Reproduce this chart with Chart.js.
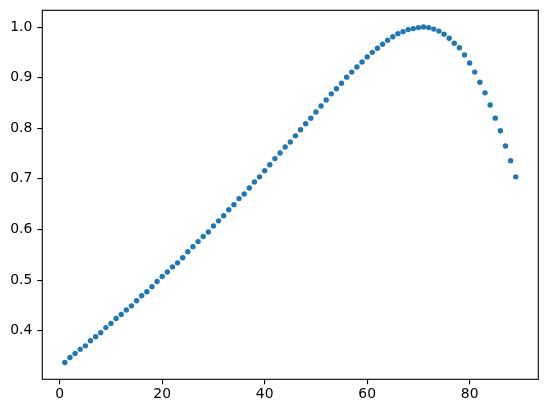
<!DOCTYPE html>
<html>
<head>
<meta charset="utf-8">
<script src="https://cdn.jsdelivr.net/npm/chart.js"></script>
<style>
  html, body { margin: 0; padding: 0; background: #ffffff; }
  #wrap { width: 547px; height: 413px; position: relative; }
</style>
</head>
<body>
<div id="wrap"><canvas id="scatterChart"></canvas></div>
<script>
// values
const xValues = [
   1,  2,  3,  4,  5,  6,  7,  8,  9, 10,
  11, 12, 13, 14, 15, 16, 17, 18, 19, 20,
  21, 22, 23, 24, 25, 26, 27, 28, 29, 30,
  31, 32, 33, 34, 35, 36, 37, 38, 39, 40,
  41, 42, 43, 44, 45, 46, 47, 48, 49, 50,
  51, 52, 53, 54, 55, 56, 57, 58, 59, 60,
  61, 62, 63, 64, 65, 66, 67, 68, 69, 70,
  71, 72, 73, 74, 75, 76, 77, 78, 79, 80,
  81, 82, 83, 84, 85, 86, 87, 88, 89
];
const yValues = [
  0.337, 0.347, 0.355, 0.363, 0.370, 0.380, 0.388, 0.396, 0.406, 0.414,
  0.424, 0.432, 0.441, 0.449, 0.459, 0.469, 0.477, 0.487, 0.497, 0.507,
  0.516, 0.526, 0.534, 0.544, 0.556, 0.566, 0.576, 0.586, 0.595, 0.607,
  0.617, 0.627, 0.639, 0.649, 0.661, 0.670, 0.682, 0.694, 0.704, 0.716,
  0.728, 0.740, 0.751, 0.763, 0.773, 0.785, 0.797, 0.809, 0.820, 0.832,
  0.844, 0.856, 0.868, 0.878, 0.889, 0.901, 0.911, 0.921, 0.931, 0.941,
  0.950, 0.958, 0.966, 0.974, 0.981, 0.987, 0.991, 0.995, 0.997, 0.999,
  1.000, 0.999, 0.996, 0.992, 0.986, 0.978, 0.968, 0.959, 0.945, 0.929,
  0.911, 0.891, 0.870, 0.846, 0.820, 0.795, 0.765, 0.736, 0.704
];
const xTicks = [0, 20, 40, 60, 80];
const yTicks = [0.4, 0.5, 0.6, 0.7, 0.8, 0.9, 1.0];

// matplotlib style 5% margins around the data
function padRange(vals) {
  const lo = Math.min(...vals), hi = Math.max(...vals);
  const m = (hi - lo) * 0.05;
  return [lo - m, hi + m];
}
const [xMin, xMax] = padRange(xValues);
const [yMin, yMax] = padRange(yValues);

const tickFont = { family: 'DejaVu Sans', size: 13.9 };

// full box around the plot area, like the mpl spines
const frame = {
  id: 'frame',
  afterDraw(chart) {
    const { ctx, chartArea: a } = chart;
    ctx.save();
    ctx.strokeStyle = '#000000';
    ctx.lineWidth = 1.1;
    ctx.strokeRect(a.left, a.top, a.right - a.left, a.bottom - a.top);
    ctx.restore();
  }
};

// keep chart.js from reserving extra room for the end labels
function noLabelPadding(s) {
  s.paddingTop = 0;
  s.paddingBottom = 0;
  s.paddingLeft = 0;
  s.paddingRight = 0;
}

const ctx = document.getElementById('scatterChart').getContext('2d');
new Chart(ctx, {
  type: 'scatter',
  data: {
    datasets: [{
      data: xValues.map((x, i) => ({ x: x, y: yValues[i] })),
      backgroundColor: '#1f77b4',
      borderWidth: 0,
      pointRadius: 2.7,
      pointHoverRadius: 2.7
    }]
  },
  options: {
    responsive: true,
    maintainAspectRatio: false,
    animation: false,
    layout: { padding: { top: 10.3, right: 8.7, left: 0, bottom: 0 } },
    plugins: {
      legend: { display: false },
      tooltip: { enabled: false }
    },
    scales: {
      x: {
        type: 'linear',
        min: xMin,
        max: xMax,
        afterBuildTicks: s => { s.ticks = xTicks.map(v => ({ value: v })); },
        afterFit: s => { s.height = 33.7; noLabelPadding(s); },
        border: { display: false },
        grid: {
          drawOnChartArea: false,
          drawTicks: true,
          tickLength: 5,
          color: '#000000',
          lineWidth: 1.1
        },
        ticks: {
          color: '#000000',
          font: tickFont,
          padding: 2,
          maxRotation: 0,
          callback: v => String(v)
        }
      },
      y: {
        type: 'linear',
        min: yMin,
        max: yMax,
        afterBuildTicks: s => { s.ticks = yTicks.map(v => ({ value: v })); },
        afterFit: s => { s.width = 42.3; noLabelPadding(s); },
        border: { display: false },
        grid: {
          drawOnChartArea: false,
          drawTicks: true,
          tickLength: 5,
          color: '#000000',
          lineWidth: 1.1
        },
        ticks: {
          color: '#000000',
          font: tickFont,
          padding: 5,
          callback: v => v.toFixed(1)
        }
      }
    }
  },
  plugins: [frame]
});
</script>
</body>
</html>
